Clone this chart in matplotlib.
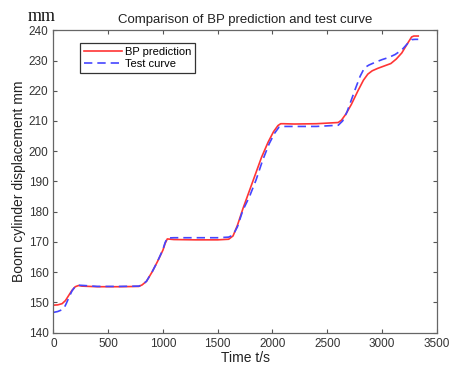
import matplotlib
matplotlib.use('Agg')
import matplotlib.pyplot as plt

# BP prediction curve
t_bp = [0, 40, 80, 110, 140, 170, 200, 230, 260, 400, 600, 780, 810, 850, 900,
        950, 1000, 1020, 1040, 1100, 1300, 1500, 1600, 1640, 1680, 1730, 1790,
        1850, 1900, 1960, 2010, 2050, 2075, 2100, 2200, 2400, 2600, 2630, 2670,
        2720, 2780, 2830, 2870, 2910, 2960, 3020, 3080, 3130, 3180, 3230, 3270,
        3290, 3330]
y_bp = [149.1, 149.2, 149.6, 150.6, 152.3, 154.0, 155.2, 155.6, 155.4, 155.2,
        155.2, 155.3, 155.8, 157.0, 160.0, 163.5, 167.3, 169.5, 171.0, 170.8,
        170.7, 170.7, 170.9, 172.0, 175.5, 181.0, 187.0, 193.0, 198.0, 203.0,
        206.5, 208.5, 209.1, 209.1, 209.0, 209.1, 209.5, 210.3, 212.3, 215.5,
        220.0, 223.5, 225.5, 226.6, 227.4, 228.2, 229.0, 230.5, 232.5, 235.5,
        237.8, 238.1, 238.1]

# test curve
t_test = [0, 40, 80, 100, 120, 140, 170, 200, 230, 280, 400, 600, 780, 810, 850,
          900, 950, 1000, 1020, 1040, 1100, 1300, 1500, 1600, 1640, 1680, 1730,
          1790, 1850, 1910, 1970, 2020, 2060, 2080, 2200, 2400, 2600, 2640, 2680,
          2720, 2760, 2800, 2840, 2880, 2930, 3000, 3060, 3120, 3180, 3230, 3270,
          3300, 3330]
y_test = [146.7, 147.0, 147.6, 148.3, 149.8, 151.5, 153.8, 155.3, 155.7, 155.6,
          155.3, 155.3, 155.4, 155.8, 157.0, 160.0, 163.5, 167.5, 169.8, 171.3,
          171.4, 171.4, 171.4, 171.6, 172.3, 175.0, 180.5, 185.0, 190.5, 197.0,
          202.5, 206.0, 208.0, 208.2, 208.2, 208.2, 208.6, 210.0, 213.0, 217.0,
          221.0, 224.8, 227.6, 228.5, 229.3, 230.3, 231.0, 232.0, 233.5, 235.5,
          236.9, 237.0, 237.0]

plt.rcParams['font.family'] = ['Liberation Sans', 'DejaVu Sans']

fig = plt.figure(figsize=(4.56, 3.67), dpi=100)
ax = fig.add_axes([0.117, 0.0935, 0.841, 0.824])

ax.plot(t_bp, y_bp, color='#ff3535', lw=1.2, label='BP prediction')
ax.plot(t_test, y_test, color='#4545ff', lw=1.2, ls=(0, (5, 3)), label='Test curve')

ax.set_xlim(0, 3500)
ax.set_ylim(140, 240)
ax.set_xticks(range(0, 3501, 500))
ax.set_yticks(range(140, 241, 10))
ax.tick_params(direction='in', top=True, right=True, labelsize=8.5,
               length=3, color='#555555', labelcolor='#333333')
for s in ax.spines.values():
    s.set_color('#666666')
    s.set_linewidth(0.9)

ax.set_title('Comparison of BP prediction and test curve', fontsize=9.5,
             color='#222222', pad=5)
ax.set_xlabel('Time t/s', fontsize=10, color='#222222', labelpad=1)
ax.set_ylabel('Boom cylinder displacement mm', fontsize=10, color='#222222',
              labelpad=2)
fig.text(0.06, 0.955, 'mm', fontsize=13, family='Liberation Serif',
         ha='left', va='center', color='#111111')

leg = ax.legend(loc='upper left', bbox_to_anchor=(0.07, 0.958), fontsize=8,
                fancybox=False, edgecolor='#333333', framealpha=1,
                handlelength=3.4, borderpad=0.35, labelspacing=0.2,
                handletextpad=0.3, borderaxespad=0)
leg.get_frame().set_linewidth(0.9)

fig.savefig('out.png', dpi=100)
